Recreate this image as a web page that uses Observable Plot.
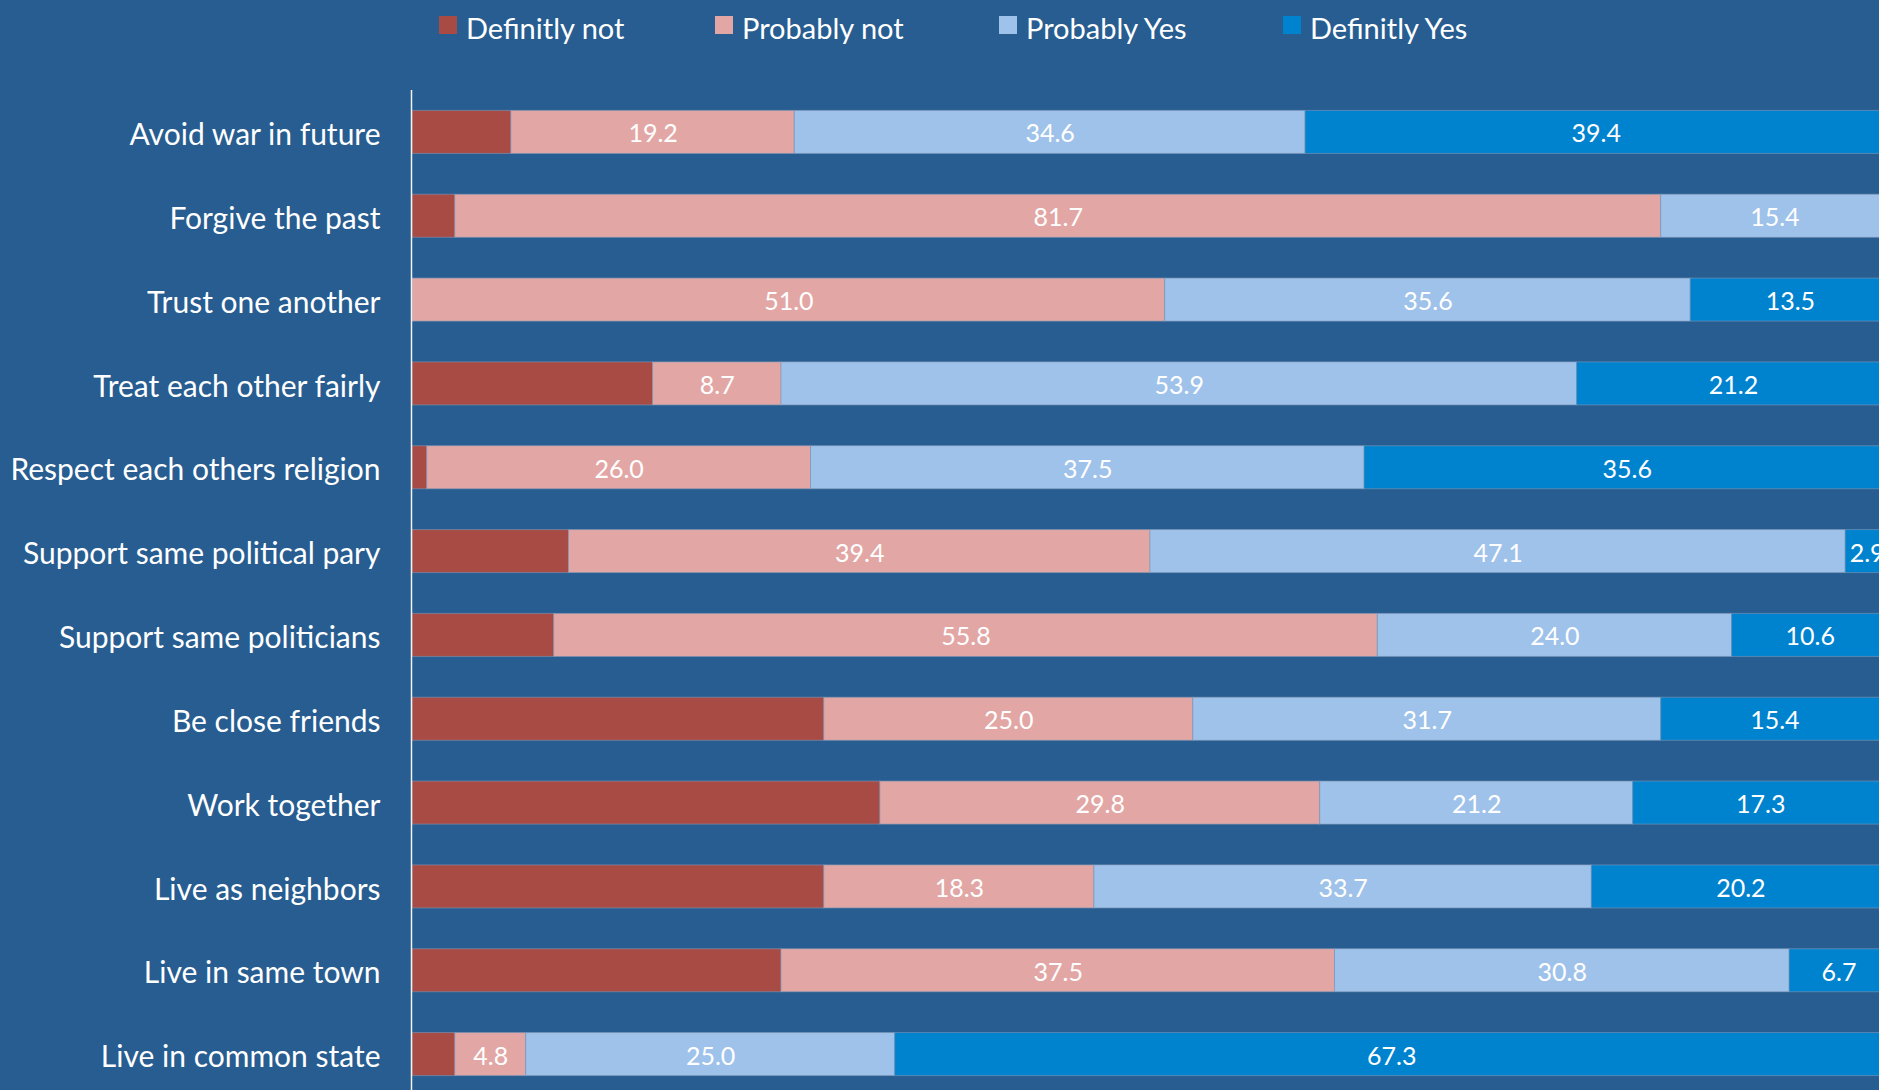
<!DOCTYPE html>
<html>
<head>
<meta charset="utf-8">
<script src="https://cdn.jsdelivr.net/npm/d3@7"></script>
<script src="https://cdn.jsdelivr.net/npm/@observablehq/plot@0.6"></script>
<style>
  html, body { margin: 0; padding: 0; background: #275d90; overflow: hidden; width: 1879px; height: 1090px; }
  #legend { position: relative; height: 60px; width: 1879px; font-family: Lato, sans-serif; font-size: 29px; color: #ffffff; }
  .item { position: absolute; top: 2px; height: 50px; display: flex; align-items: center; }
  .sw { width: 18px; height: 18px; margin-right: 9px; margin-top: -4px; }
  #chart svg { overflow: hidden; display: block; }
</style>
</head>
<body>
<div id="legend"></div>
<div id="chart"></div>
<script>
const categories = [
  "Avoid war in future",
  "Forgive the past",
  "Trust one another",
  "Treat each other fairly",
  "Respect each others religion",
  "Support same political pary",
  "Support same politicians",
  "Be close friends",
  "Work together",
  "Live as neighbors",
  "Live in same town",
  "Live in common state"
];
const responses = ["Definitly not", "Probably not", "Probably Yes", "Definitly Yes"];
const definitlyNot = [6.7, 2.9, 0, 16.3, 1.0, 10.6, 9.6, 27.9, 31.7, 27.9, 25.0, 2.9];
const probablyNot  = [19.2, 81.7, 51.0, 8.7, 26.0, 39.4, 55.8, 25.0, 29.8, 18.3, 37.5, 4.8];
const probablyYes  = [34.6, 15.4, 35.6, 53.9, 37.5, 47.1, 24.0, 31.7, 21.2, 33.7, 30.8, 25.0];
const definitlyYes = [39.4, 0, 13.5, 21.2, 35.6, 2.9, 10.6, 15.4, 17.3, 20.2, 6.7, 67.3];
const colors = ["#a84b44", "#e2a7a5", "#9fc2ea", "#0083cf"];

const series = [definitlyNot, probablyNot, probablyYes, definitlyYes];
const data = [];
responses.forEach((r, si) => {
  categories.forEach((c, ci) => {
    const v = series[si][ci];
    if (v > 0) data.push({category: c, response: r, value: v});
  });
});

// legend
const legendX = [439, 715, 999, 1283];
const legend = document.getElementById("legend");
responses.forEach((r, i) => {
  const it = document.createElement("div");
  it.className = "item";
  it.style.left = legendX[i] + "px";
  const sw = document.createElement("span");
  sw.className = "sw";
  sw.style.background = colors[i];
  const tx = document.createElement("span");
  tx.textContent = r;
  it.appendChild(sw);
  it.appendChild(tx);
  legend.appendChild(it);
});

const plot = Plot.plot({
  width: 1879,
  height: 1030,
  marginLeft: 412,
  marginRight: 0,
  marginTop: 30,
  marginBottom: 0,
  style: {background: "transparent", color: "#ffffff", fontFamily: "Lato, sans-serif", overflow: "hidden"},
  x: {domain: [0, 100], range: [412, 1888], axis: null},
  y: {domain: categories, range: [30, 1036], padding: 0, round: false, label: null},
  color: {domain: responses, range: colors},
  marks: [
    Plot.barX(data, Plot.stackX({
      x: "value", y: "category", fill: "response", order: responses,
      insetTop: 20.4, insetBottom: 20.4, insetLeft: 0, insetRight: 0,
      stroke: "#8196b8", strokeWidth: 1, strokeOpacity: 0.6
    })),
    Plot.text(data, Plot.stackX({
      x: "value", y: "category", z: "response", order: responses,
      text: d => d.response === "Definitly not" ? "" : d.value.toFixed(1),
      fill: "#ffffff", fontSize: 25, dy: 2
    })),
    Plot.ruleX([0], {stroke: "#f2f2f2", strokeWidth: 1.5, dx: -1}),
    Plot.axisY({tickSize: 0, tickPadding: 32, fontSize: 30, label: null, fill: "#ffffff", dy: 3})
  ]
});
document.getElementById("chart").appendChild(plot);
</script>
</body>
</html>
